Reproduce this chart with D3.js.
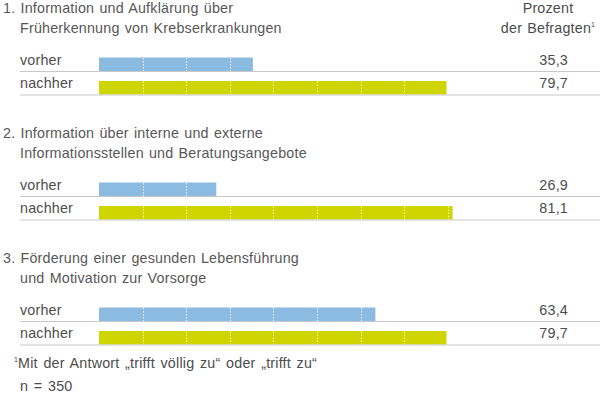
<!DOCTYPE html>
<html>
<head>
<meta charset="utf-8">
<script src="https://cdn.jsdelivr.net/npm/d3@7"></script>
<style>
  body { margin: 0; background: #fff; }
  text { font-family: "Liberation Sans", Arial, sans-serif; fill: #4d4d4d; letter-spacing: 0.2px; word-spacing: 1px; }
</style>
</head>
<body>
<script>
// data
var groupTitles = [
  ["1. Information und Aufklärung über", "Früherkennung von Krebserkrankungen"],
  ["2. Information über interne und externe", "Informationsstellen und Beratungsangebote"],
  ["3. Förderung einer gesunden Lebensführung", "und Motivation zur Vorsorge"]
];
var seriesNames = ["vorher", "nachher"];
var vorher = [35.3, 26.9, 63.4];
var nachher = [79.7, 81.1, 79.7];
var gridTicks = [10, 20, 30, 40, 50, 60, 70, 80];
var fmt = function(v){ return d3.format(".1f")(v).replace(".", ","); };

var W = 600, H = 404;
var svg = d3.select("body").append("svg")
  .attr("width", W)
  .attr("height", H);

var x = d3.scaleLinear().domain([0, 100]).range([99, 535]);
var colors = d3.scaleOrdinal().domain(seriesNames).range(["#8bbbe1", "#ced500"]);

// header
var head = svg.append("text").attr("text-anchor", "middle").style("font-size", "14.3px");
head.append("tspan").attr("x", 548).attr("y", 13).text("Prozent");
head.append("tspan").attr("x", 548).attr("y", 33).text("der Befragten");
head.append("tspan").attr("dy", -6).style("font-size", "7px").text("1");

var rows = [];
groupTitles.forEach(function(t, g){
  rows.push({ g: g, name: "vorher", value: vorher[g], k: 0 });
  rows.push({ g: g, name: "nachher", value: nachher[g], k: 1 });
});

var groups = svg.selectAll(".grp")
  .data(groupTitles)
  .enter().append("g")
  .attr("class", "grp")
  .attr("transform", function(d, i){ return "translate(0," + (i * 125) + ")"; });

groups.append("text")
  .style("font-size", "14.3px")
  .style("fill", "#575757")
  .selectAll("tspan")
  .data(function(d){ return d; })
  .enter().append("tspan")
  .attr("x", function(d, i){ return i == 0 ? 3 : 20; })
  .attr("y", function(d, i){ return 13 + i * 20; })
  .text(function(d){ return d; });

var rowG = svg.selectAll(".row")
  .data(rows)
  .enter().append("g")
  .attr("class", "row")
  .attr("transform", function(d){ return "translate(0," + (d.g * 125 + d.k * 23.5) + ")"; });

// bars
rowG.append("rect")
  .attr("x", x(0))
  .attr("y", 57.5)
  .attr("width", function(d){ return x(d.value) - x(0); })
  .attr("height", 13.5)
  .style("fill", function(d){ return colors(d.name); });

// dotted white grid inside bars
rowG.each(function(d){
  d3.select(this).selectAll(".grid")
    .data(gridTicks.filter(function(t){ return t < d.value; }))
    .enter().append("line")
    .attr("class", "grid")
    .attr("x1", function(t){ return Math.round(x(t)) + 0.5; })
    .attr("x2", function(t){ return Math.round(x(t)) + 0.5; })
    .attr("y1", 58)
    .attr("y2", 71)
    .style("stroke", "#fff")
    .style("stroke-opacity", 0.8)
    .style("stroke-width", 1)
    .style("stroke-dasharray", "1.5,1.5");
});

// baseline
rowG.append("line")
  .attr("x1", 20).attr("x2", W)
  .attr("y1", 71.5).attr("y2", 71.5)
  .style("stroke", "#c8c8c8")
  .style("stroke-width", 1.2);

rowG.append("text")
  .attr("x", 20)
  .attr("y", 64.5)
  .style("font-size", "14.3px")
  .text(function(d){ return d.name; });

rowG.append("text")
  .attr("x", 568)
  .attr("y", 64.5)
  .attr("text-anchor", "end")
  .style("font-size", "14.3px")
  .text(function(d){ return fmt(d.value); });

// footnote
var foot = svg.append("text").style("font-size", "14.3px").style("word-spacing", "1.5px");
foot.append("tspan").attr("x", 14).attr("y", 368).style("font-size", "7px").attr("dy", -6).text("1");
foot.append("tspan").attr("dy", 6).text("Mit der Antwort „trifft völlig zu“ oder „trifft zu“");
svg.append("text").attr("x", 20).attr("y", 391).style("font-size", "14.3px").style("word-spacing", "1.5px").text("n = 350");
</script>
</body>
</html>
